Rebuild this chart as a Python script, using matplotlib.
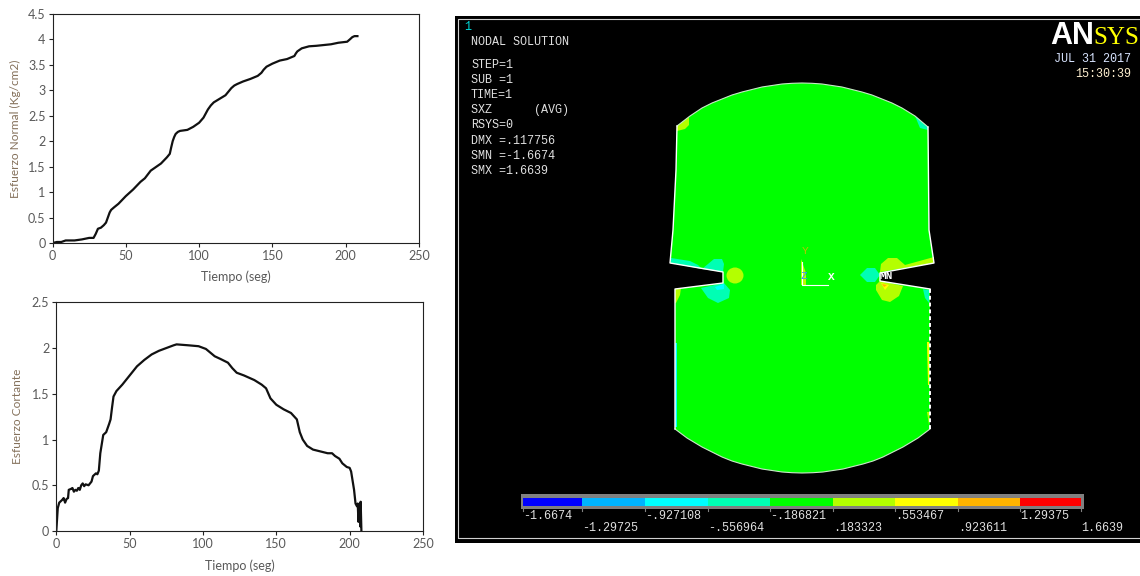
import matplotlib
matplotlib.use('Agg')
import matplotlib.pyplot as plt
from matplotlib.patches import Polygon, Rectangle, Ellipse

# curvas
t_normal = [0, 3, 6, 9, 15, 20, 25, 28, 29.5, 31, 33, 35, 36.5, 38, 39, 40, 42, 45, 50, 55, 60, 63, 67, 70, 74, 78, 80,
            81, 82, 83, 84, 85.5, 87, 92, 96, 100, 103, 104.5, 106, 108, 110, 114, 118, 120, 122, 124, 126, 130, 135,
            140, 142.5, 144, 146, 150, 155, 160, 165, 166, 167, 170, 175, 180, 190, 195, 201, 203, 204.5, 206, 208]
normal = [0, .02, .02, .05, .05, .07, .1, .1, .18, .28, .3, .35, .4, .52, .6, .65, .7, .77, .92, 1.05, 1.2, 1.27, 1.42,
          1.48, 1.56, 1.68, 1.75, 1.88, 2.0, 2.08, 2.14, 2.18, 2.2, 2.22, 2.28, 2.36, 2.46, 2.54, 2.62, 2.7, 2.76,
          2.83, 2.9, 2.97, 3.04, 3.09, 3.12, 3.17, 3.22, 3.28, 3.34, 3.4, 3.46, 3.52, 3.58, 3.61, 3.67, 3.72, 3.76,
          3.82, 3.86, 3.87, 3.9, 3.93, 3.95, 4.0, 4.04, 4.06, 4.06]

t_cortante = [0, 1, 2, 4, 5, 6, 7, 8, 8.5, 10, 11, 12, 13, 14, 15, 16, 17, 18, 19, 20, 22, 24, 25, 27, 28, 29, 30, 31,
              32, 34, 36, 37, 38, 39, 41, 45, 50, 55, 60, 65, 70, 75, 80, 82, 90, 97, 102, 108, 112, 117, 120, 123, 128,
              135, 140, 143, 146, 150, 155, 160, 164, 166, 168, 171, 175, 180, 185, 188, 190, 193, 195, 198, 200, 201,
              202, 203, 204, 205, 205.5, 206, 207, 207.2, 207.5, 208]
cortante = [0, .25, .31, .34, .36, .31, .35, .36, .45, .46, .47, .43, .45, .44, .47, .45, .5, .52, .49, .51, .5, .54, .6,
            .63, .62, .66, .85, .95, 1.05, 1.08, 1.17, 1.22, 1.35, 1.47, 1.53, 1.6, 1.7, 1.8, 1.87, 1.93, 1.97, 2.0,
            2.03, 2.04, 2.03, 2.02, 1.99, 1.91, 1.88, 1.84, 1.78, 1.73, 1.7, 1.65, 1.6, 1.56, 1.45, 1.38, 1.33, 1.29,
            1.22, 1.08, 1.0, .93, .89, .87, .85, .85, .82, .79, .74, .7, .69, .65, .55, .45, .3, .27, .3, .1, .3, .05,
            .32, 0]

x_ticks = [0, 50, 100, 150, 200, 250]
y_ticks_normal = [0, .5, 1, 1.5, 2, 2.5, 3, 3.5, 4, 4.5]
y_ticks_cortante = [0, .5, 1, 1.5, 2, 2.5]

# escala de colores de ANSYS
bar_colors = ['#0000ff', '#00b4ff', '#00ffff', '#00ffb4', '#00ff00', '#b4ff00', '#ffff00', '#ffb400', '#ff0000']
bar_edges = [523, 582, 645, 708, 770, 833, 895, 958, 1020, 1081]
bar_labels = ['-1.6674', '-1.29725', '-.927108', '-.556964', '-.186821', '.183323', '.553467', '.923611', '1.29375', '1.6639']
info_lines = ['NODAL SOLUTION', 'STEP=1', 'SUB =1', 'TIME=1', 'SXZ      (AVG)', 'RSYS=0', 'DMX =.117756', 'SMN =-1.6674', 'SMX =1.6639']
info_y = [42, 65, 80, 95, 110, 125, 141, 156, 171]

# contorno de la probeta (pixeles de la imagen)
arco_sup = [(677, 126), (690, 116), (702, 108), (712, 103), (722, 99), (732, 95), (742, 92), (752, 89.5), (762, 87),
            (772, 85.5), (782, 84), (792, 83.3), (802, 83), (812, 83.3), (822, 84), (832, 85.5), (842, 87), (852, 89.5),
            (862, 92), (872, 95), (882, 99), (892, 103), (902, 108), (915, 116), (928, 127)]
lado_der = [(929, 230), (934, 263), (880, 273), (880, 281), (930, 289), (930, 429)]
arco_inf = [(930, 429), (918, 438), (903, 447), (893, 452), (883, 457), (873, 461), (863, 464), (853, 466.5), (843, 469),
            (833, 470.5), (823, 472), (813, 472.7), (802, 473), (792, 472.7), (782, 472), (772, 470.5), (762, 469),
            (752, 466.5), (742, 464), (732, 461), (722, 457), (712, 452), (702, 447), (687, 438), (675, 429)]
lado_izq = [(675, 289), (723, 283), (723, 272), (670, 263), (673, 230), (676, 170)]
probeta = arco_sup + lado_der + arco_inf[1:] + lado_izq
borde_derecho = [(930, 930), (289, 429)]

# zonas de color: (color, vertices)
zonas = [
    ('#b4ff00', [(677, 126), (689, 117), (689, 125), (685, 129), (677, 131)]),
    ('#00ffb4', [(915, 116), (928, 127), (928, 130), (920, 128)]),
    ('#00ffb4', [(671, 258), (690, 261), (698, 265), (702, 269), (671, 263)]),
    ('#00ffb4', [(702, 269), (714, 259), (722, 259), (724, 264), (723, 272)]),
    ('#00ffb4', [(701, 288), (724, 283), (730, 290), (729, 298), (718, 303), (708, 298)]),
    ('#00ffff', [(715, 287), (724, 284), (724, 289), (717, 290)]),
    ('#b4ff00', [(675, 289), (681, 288), (680, 295), (676, 303), (675, 303)]),
    ('#b4ff00', [(880, 272), (881, 264), (888, 258), (897, 258), (905, 265), (934, 257), (934, 263)]),
    ('#b4ff00', [(876, 285), (880, 281), (903, 286), (899, 296), (890, 302), (882, 300), (876, 290)]),
    ('#ffff00', [(881, 283), (889, 285), (885, 290)]),
    ('#ffb400', [(882, 284), (887, 285), (884, 287)]),
    ('#00ffb4', [(860, 275), (867, 268), (875, 268), (880, 275), (875, 282), (867, 282)]),
    ('#00ffb4', [(923, 289), (929, 290), (929, 303), (925, 298)]),
    ('#00ffff', [(675, 343), (677, 343), (677, 427), (675, 427)]),
    ('#ffff00', [(927, 342), (929, 342), (929, 385), (928, 385)]),
    ('#b4ff00', [(927, 412), (929, 412), (929, 425)]),
    ('#b4ff00', [(801, 259), (806, 273), (806, 285), (801, 285)]),
]


def format_ax(ax, ylim, yticks, ylabel, ylabel_x, ylabel_y, xlabel_y):
    ax.set_xlim(0, 250)
    ax.set_ylim(*ylim)
    ax.set_xticks(x_ticks)
    ax.set_yticks(yticks)
    ax.set_yticklabels([f'{v:g}' for v in yticks])
    ax.tick_params(labelsize=9, colors='#595959', length=3, width=0.8, pad=2, color='#222222')
    for s in ax.spines.values():
        s.set_linewidth(0.8)
        s.set_color('#222222')
    ax.set_xlabel('Tiempo (seg)', fontsize=9, color='#595959', va='center')
    ax.xaxis.set_label_coords(0.5, xlabel_y)
    ax.set_ylabel(ylabel, fontsize=8.6, color='#84705a', va='center')
    ax.yaxis.set_label_coords(ylabel_x, ylabel_y)


plt.rcParams['font.family'] = ['Lato', 'DejaVu Sans']
fig = plt.figure(figsize=(11.4, 5.76), dpi=100)

ax1 = fig.add_axes([52.5 / 1140, 1 - 243 / 576, (419 - 52.5) / 1140, (243 - 13.7) / 576])
ax1.plot(t_normal, normal, color='#111111', lw=1.6)
format_ax(ax1, (0, 4.5), y_ticks_normal, 'Esfuerzo Normal (Kg/cm2)', (15 - 52.5) / 366.5, (243 - 129) / 229.3, -34 / 229.3)

ax2 = fig.add_axes([56.3 / 1140, 1 - 531 / 576, (423 - 56.3) / 1140, (531 - 302.3) / 576])
ax2.plot(t_cortante, cortante, color='#111111', lw=1.6)
format_ax(ax2, (0, 2.5), y_ticks_cortante, 'Esfuerzo Cortante', (18 - 56.3) / 366.7, (531 - 416) / 228.7, -35 / 228.7)

# panel ANSYS, en pixeles
p = fig.add_axes([0, 0, 1, 1], facecolor='none')
p.set_xlim(0, 1140)
p.set_ylim(576, 0)
p.axis('off')
p.add_patch(Rectangle((455, 16), 685, 527, fc='black', ec='none'))
p.plot([1140, 458, 458, 1140], [19, 19, 538, 538], color='#d0d0d0', lw=0.8)

p.add_patch(Polygon(probeta, closed=True, fc='#00ff00', ec='none'))
for color, verts in zonas:
    p.add_patch(Polygon(verts, closed=True, fc=color, ec='none'))
p.add_patch(Ellipse((735, 275.5), 17, 16, fc='#b4ff00', ec='none'))

# bordes blancos del modelo
p.plot(*zip(*arco_sup), color='#c8e8c8', lw=0.8)
p.plot(*zip(*arco_inf), color='#c8e8c8', lw=0.8)
p.plot([677, 676, 673, 670, 723, 723, 675, 675], [126, 170, 230, 263, 272, 283, 289, 429], color='white', lw=1)
p.plot([928, 929, 934, 880, 880, 930], [127, 230, 263, 273, 281, 289], color='white', lw=1)
p.plot(*borde_derecho, color='white', lw=1.4, dashes=(2, 1.5))

mono = 'Liberation Mono'
p.text(464, 27, '1', color='#00d8d8', family=mono, fontsize=8.5, va='center')
for line, y in zip(info_lines, info_y):
    p.text(471, y, line, color='#e0e0e0', family=mono, fontsize=8.5, va='center')

# ejes del modelo
p.plot([802, 802, 828], [262, 285, 285], color='white', lw=0.8)
p.text(805, 251, 'Y', color='#b4c800', family=mono, fontsize=8, ha='center', va='center')
p.text(804, 276, 'Z', color='#3090ff', family=mono, fontsize=8, ha='center', va='center')
p.text(831, 277, 'X', color='white', family=mono, fontsize=8, ha='center', va='center', weight='bold')
p.text(886, 276, 'MN', color='white', family=mono, fontsize=8, ha='center', va='center', weight='bold')

# logo y fecha
p.text(1050, 44, 'AN', color='white', family='Liberation Sans', fontsize=22, weight='bold', va='baseline')
p.text(1093, 44, 'SYS', color='#ffff00', family='Liberation Serif', fontsize=18, va='baseline')
p.text(1131, 59, 'JUL 31 2017', color='#d8e4ff', family=mono, fontsize=8.5, ha='right', va='center')
p.text(1131, 74, '15:30:39', color='#fff0d0', family=mono, fontsize=8.5, ha='right', va='center')

# barra de colores
p.add_patch(Rectangle((521, 494), 563, 15, fc='#808080', ec='none'))
for i, c in enumerate(bar_colors):
    p.add_patch(Rectangle((bar_edges[i], 498), bar_edges[i + 1] - bar_edges[i], 8, fc=c, ec='none'))
for i, (x, lab) in enumerate(zip(bar_edges, bar_labels)):
    p.plot([x, x], [509, 511], color='#808080', lw=0.8)
    y = 516 if i % 2 == 0 else 528
    p.text(x, y, lab, color='#e0e0e0', family=mono, fontsize=8.5, va='center')

fig.savefig('out.png', dpi=100)
